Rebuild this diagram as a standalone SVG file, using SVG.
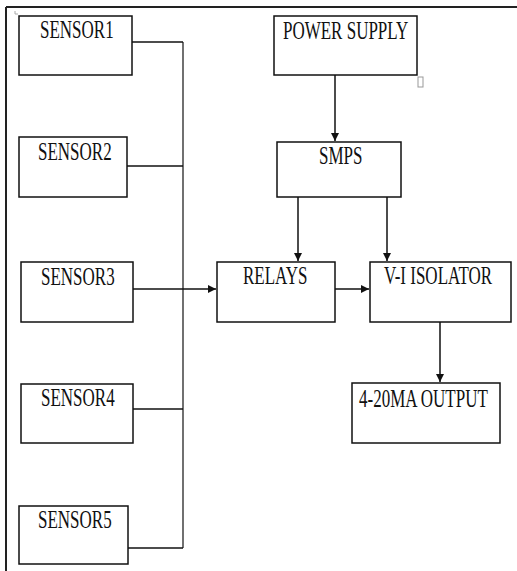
<svg xmlns="http://www.w3.org/2000/svg" width="517" height="571" viewBox="0 0 517 571">
<style>
.box{fill:#fff;stroke:#111;stroke-width:1.5}
.lbl{font-family:"Liberation Serif","Times New Roman",serif;font-size:17px;fill:#111}
.ln{fill:none;stroke:#111;stroke-width:1.5}
.bus{fill:none;stroke:#111;stroke-width:1.2}
</style>
<defs>
<marker id="ah" viewBox="0 0 10 10" refX="10" refY="5" markerWidth="8" markerHeight="8" markerUnits="userSpaceOnUse" orient="auto">
<path d="M0,0 L10,5 L0,10 Z" fill="#111"/>
</marker>
</defs>
<rect x="0" y="0" width="517" height="571" fill="#fff"/>
<g id="frame">
<line x1="6" y1="7" x2="517" y2="7" stroke="#222" stroke-width="2"/>
<line x1="6" y1="7" x2="6" y2="571" stroke="#222" stroke-width="2"/>
<path d="M15,11 V14 H18" fill="none" stroke="#aaa" stroke-width="1"/>
<rect x="418" y="77" width="5" height="10" fill="#fff" stroke="#999" stroke-width="1"/>
</g>
<g id="connectors">
<path class="ln" d="M132,42 H183"/>
<path class="ln" d="M127,166 H183"/>
<path class="ln" d="M133,409 H183"/>
<path class="ln" d="M128,548 H183"/>
<path class="bus" d="M183,42 V548"/>
<path class="ln" d="M133,289 H216" marker-end="url(#ah)"/>
<path class="ln" d="M335,75 V141" marker-end="url(#ah)"/>
<path class="ln" d="M298,197 V261" marker-end="url(#ah)"/>
<path class="ln" d="M387,197 V261" marker-end="url(#ah)"/>
<path class="ln" d="M335,289 H369" marker-end="url(#ah)"/>
<path class="ln" d="M440,322 V382" marker-end="url(#ah)"/>
</g>
<g id="sensor1"><rect class="box" x="19" y="16" width="113" height="59"/><text class="lbl" transform="translate(40,38) scale(1,1.45)">SENSOR1</text></g>
<g id="sensor2"><rect class="box" x="19" y="137" width="108" height="60"/><text class="lbl" transform="translate(38,160) scale(1,1.45)">SENSOR2</text></g>
<g id="sensor3"><rect class="box" x="21" y="262" width="112" height="60"/><text class="lbl" transform="translate(41,285) scale(1,1.45)">SENSOR3</text></g>
<g id="sensor4"><rect class="box" x="21" y="384" width="112" height="59"/><text class="lbl" transform="translate(41,406) scale(1,1.45)">SENSOR4</text></g>
<g id="sensor5"><rect class="box" x="19" y="506" width="109" height="58"/><text class="lbl" transform="translate(38,528) scale(1,1.45)">SENSOR5</text></g>
<g id="power-supply"><rect class="box" x="274" y="16" width="143" height="59"/><text class="lbl" transform="translate(283,39) scale(1,1.45)">POWER SUPPLY</text></g>
<g id="smps"><rect class="box" x="277" y="142" width="124" height="55"/><text class="lbl" transform="translate(319,164) scale(1,1.45)">SMPS</text></g>
<g id="relays"><rect class="box" x="217" y="262" width="118" height="60"/><text class="lbl" transform="translate(243,284) scale(1,1.45)">RELAYS</text></g>
<g id="vi-isolator"><rect class="box" x="370" y="262" width="141" height="60"/><text class="lbl" transform="translate(384,284) scale(1,1.45)">V-I ISOLATOR</text></g>
<g id="output"><rect class="box" x="352" y="383" width="148" height="60"/><text class="lbl" transform="translate(359,407) scale(1,1.45)">4-20MA OUTPUT</text></g>
</svg>
